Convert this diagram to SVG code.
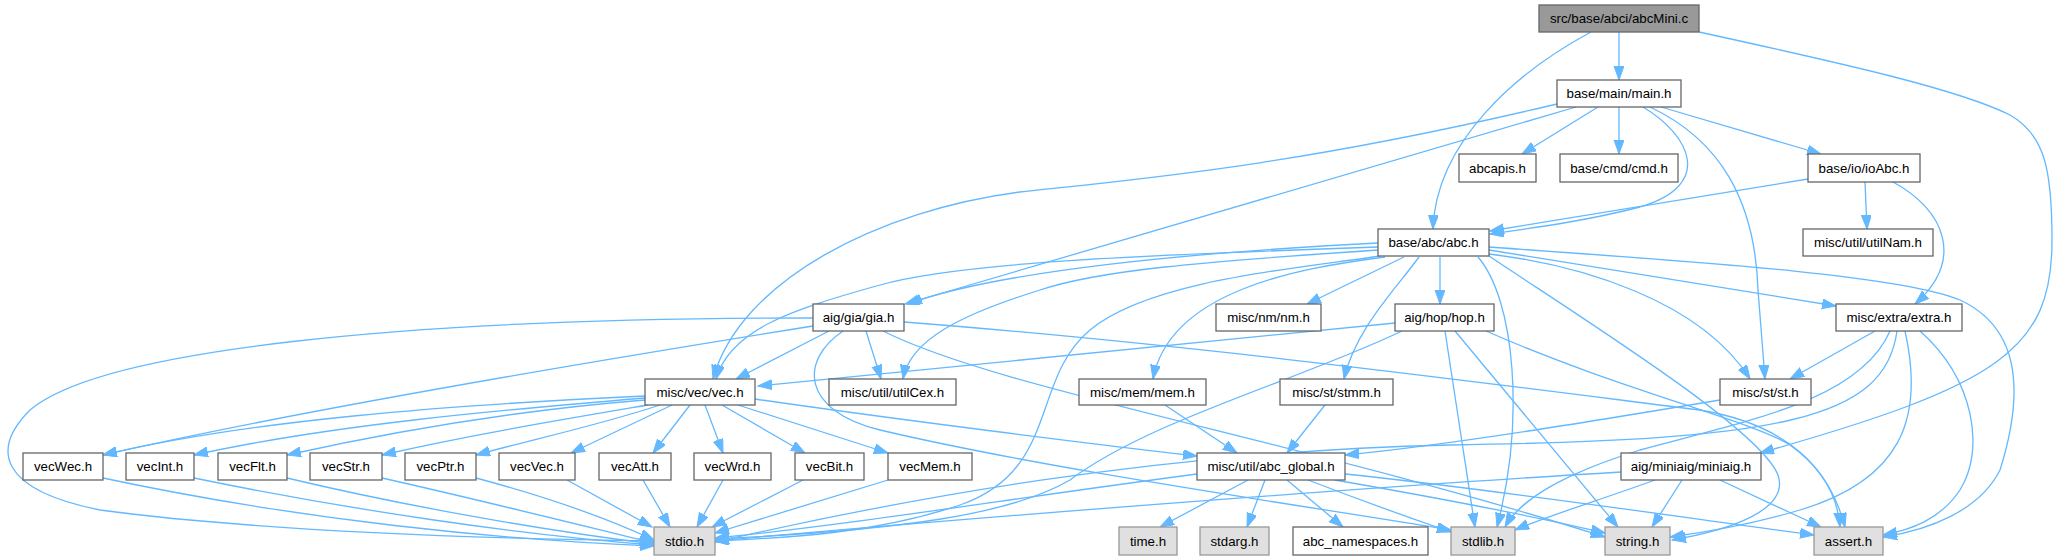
<svg xmlns="http://www.w3.org/2000/svg" width="2057" height="560" viewBox="0 0 2057 560">
<style>
.n rect{fill:#ffffff;stroke:#666666;stroke-width:1.3}
.g rect{fill:#e0e0e0;stroke:#999999;stroke-width:1.3}
.r rect{fill:#999999;stroke:#666666;stroke-width:1.3}
text{font-family:"Liberation Sans",Arial,Helvetica,sans-serif;font-size:13.3px;fill:#000000;text-anchor:middle}
#edges path{fill:none;stroke:#63b8ff;stroke-width:1.3;marker-end:url(#a)}
</style>
<defs>
<marker id="a" markerUnits="userSpaceOnUse" markerWidth="16" markerHeight="12" refX="14" refY="5" orient="auto"><path d="M0,0L14,5L0,10z" fill="#63b8ff" stroke="#63b8ff" stroke-width="1"/></marker>
</defs>
<rect width="2057" height="560" fill="#ffffff"/>
<g id="edges">
<path d="M1619,32 L1619,80"/>
<path d="M1591,32 C1520,70 1436,140 1433,229"/>
<path d="M1699,32 C1850,65 1960,90 2010,115 C2045,135 2052,170 2052,240 C2052,350 2000,385 1760,453"/>
<path d="M1598,107 L1522,154"/>
<path d="M1619,107 L1619,154"/>
<path d="M1661,107 L1821,154"/>
<path d="M1643,107 C1690,135 1715,185 1640,207 C1590,220 1540,227 1490,234"/>
<path d="M1650,107 C1720,140 1755,200 1758,290 L1765,379"/>
<path d="M1576,107 L905,304"/>
<path d="M1557,104 C1300,165 1150,178 1020,192 C880,210 740,280 713,379"/>
<path d="M1808,179 L1490,231"/>
<path d="M1865,182 L1867,229"/>
<path d="M1893,182 C1945,210 1965,260 1915,304"/>
<path d="M1378,243 C1200,252 1000,270 908,304"/>
<path d="M1378,247 C1150,255 960,262 880,285 C790,310 730,330 716,379"/>
<path d="M1378,250 C1200,262 1100,270 1040,290 C960,315 910,340 903,379"/>
<path d="M1380,256 C1300,268 1150,280 1090,330 C1030,380 1060,470 960,505 C870,535 780,538 715,541"/>
<path d="M1404,257 L1307,304"/>
<path d="M1385,257 C1300,268 1170,290 1153,379"/>
<path d="M1440,257 L1440,304"/>
<path d="M1419,257 C1395,290 1355,330 1344,379"/>
<path d="M1478,257 C1515,300 1525,420 1497,527"/>
<path d="M1489,256 C1600,330 1760,430 1778,475 C1790,510 1730,530 1672,540"/>
<path d="M1489,254 C1580,265 1700,300 1750,379"/>
<path d="M1489,250 L1836,306"/>
<path d="M1489,247 C1700,262 1900,275 1960,300 C2025,330 2022,400 2000,470 C1980,510 1930,530 1883,537"/>
<path d="M813,318 C400,318 100,350 30,410 C-10,450 0,490 100,510 C250,530 450,538 654,541"/>
<path d="M813,326 C600,360 300,410 103,455"/>
<path d="M829,331 L736,379"/>
<path d="M866,331 L881,379"/>
<path d="M843,331 C800,360 800,410 880,430 C1050,470 1300,505 1451,530"/>
<path d="M883,331 C1000,390 1300,440 1605,537"/>
<path d="M904,322 C1200,345 1500,385 1700,410 C1790,425 1830,470 1845,527"/>
<path d="M645,396 C450,405 250,420 103,455"/>
<path d="M645,398 C500,410 330,425 194,455"/>
<path d="M645,400 C520,410 400,430 287,455"/>
<path d="M648,405 C560,420 470,435 382,455"/>
<path d="M660,405 C600,425 530,440 476,455"/>
<path d="M672,405 L571,453"/>
<path d="M690,405 L653,453"/>
<path d="M705,405 L723,453"/>
<path d="M722,405 L805,453"/>
<path d="M738,405 L888,453"/>
<path d="M755,399 C900,420 1100,445 1197,456"/>
<path d="M103,478 C300,520 500,540 654,546"/>
<path d="M194,478 C350,510 520,535 654,545"/>
<path d="M287,478 C400,505 540,530 654,544"/>
<path d="M382,478 C480,500 580,525 654,543"/>
<path d="M476,478 C540,495 600,515 654,540"/>
<path d="M567,480 L652,527"/>
<path d="M643,480 L670,527"/>
<path d="M723,480 L697,527"/>
<path d="M803,480 L712,527"/>
<path d="M888,480 L715,533"/>
<path d="M1197,474 C1000,500 850,525 715,538"/>
<path d="M1248,480 L1160,527"/>
<path d="M1265,480 L1247,527"/>
<path d="M1287,480 L1343,527"/>
<path d="M1308,480 C1360,500 1410,518 1451,532"/>
<path d="M1335,480 C1450,500 1550,520 1605,533"/>
<path d="M1345,474 C1500,490 1700,520 1814,535"/>
<path d="M1165,405 L1237,453"/>
<path d="M1325,405 L1287,453"/>
<path d="M1720,400 C1600,420 1450,445 1345,455"/>
<path d="M1395,323 L758,386"/>
<path d="M1402,331 C1300,380 1150,420 1070,480 C1010,515 900,530 715,539"/>
<path d="M1445,331 L1475,527"/>
<path d="M1455,331 L1618,527"/>
<path d="M1486,331 C1620,390 1750,420 1790,445 C1825,470 1838,500 1840,527"/>
<path d="M1875,331 L1790,379"/>
<path d="M1890,331 C1860,400 1750,420 1640,450 C1560,475 1520,500 1505,527"/>
<path d="M1897,331 C1885,420 1780,440 1450,445 C1150,452 900,500 715,542"/>
<path d="M1905,331 C1925,420 1900,480 1800,510 C1750,525 1700,533 1670,537"/>
<path d="M1920,331 C1975,380 1985,450 1960,490 C1940,520 1910,530 1883,535"/>
<path d="M1621,472 C1400,485 1000,515 715,541"/>
<path d="M1655,480 C1600,500 1550,515 1515,530"/>
<path d="M1682,480 L1652,527"/>
<path d="M1720,480 L1821,527"/>
</g>
<g id="n1" class="r"><rect x="1539" y="5" width="160" height="27"/><text x="1619" y="23">src/base/abci/abcMini.c</text></g>
<g id="n2" class="n"><rect x="1557" y="80" width="124" height="27"/><text x="1619" y="98">base/main/main.h</text></g>
<g id="n3" class="n"><rect x="1459" y="154" width="77" height="28"/><text x="1497.5" y="172.5">abcapis.h</text></g>
<g id="n4" class="n"><rect x="1560" y="154" width="118" height="28"/><text x="1619" y="172.5">base/cmd/cmd.h</text></g>
<g id="n5" class="n"><rect x="1808" y="154" width="112" height="28"/><text x="1864" y="172.5">base/io/ioAbc.h</text></g>
<g id="n6" class="n"><rect x="1378" y="229" width="111" height="27"/><text x="1433.5" y="247">base/abc/abc.h</text></g>
<g id="n7" class="n"><rect x="1803" y="229" width="130" height="27"/><text x="1868" y="247">misc/util/utilNam.h</text></g>
<g id="n8" class="n"><rect x="813" y="304" width="91" height="27"/><text x="858.5" y="322">aig/gia/gia.h</text></g>
<g id="n9" class="n"><rect x="1216" y="304" width="105" height="27"/><text x="1268.5" y="322">misc/nm/nm.h</text></g>
<g id="n10" class="n"><rect x="1395" y="304" width="99" height="27"/><text x="1444.5" y="322">aig/hop/hop.h</text></g>
<g id="n11" class="n"><rect x="1836" y="304" width="126" height="27"/><text x="1899" y="322">misc/extra/extra.h</text></g>
<g id="n12" class="n"><rect x="645" y="379" width="110" height="26"/><text x="700" y="396.5">misc/vec/vec.h</text></g>
<g id="n13" class="n"><rect x="829" y="379" width="127" height="26"/><text x="892.5" y="396.5">misc/util/utilCex.h</text></g>
<g id="n14" class="n"><rect x="1079" y="379" width="127" height="26"/><text x="1142.5" y="396.5">misc/mem/mem.h</text></g>
<g id="n15" class="n"><rect x="1280" y="379" width="113" height="26"/><text x="1336.5" y="396.5">misc/st/stmm.h</text></g>
<g id="n16" class="n"><rect x="1720" y="379" width="91" height="26"/><text x="1765.5" y="396.5">misc/st/st.h</text></g>
<g id="n17" class="n"><rect x="23" y="453" width="80" height="27"/><text x="63" y="471">vecWec.h</text></g>
<g id="n18" class="n"><rect x="126" y="453" width="68" height="27"/><text x="160" y="471">vecInt.h</text></g>
<g id="n19" class="n"><rect x="218" y="453" width="69" height="27"/><text x="252.5" y="471">vecFlt.h</text></g>
<g id="n20" class="n"><rect x="310" y="453" width="72" height="27"/><text x="346" y="471">vecStr.h</text></g>
<g id="n21" class="n"><rect x="405" y="453" width="71" height="27"/><text x="440.5" y="471">vecPtr.h</text></g>
<g id="n22" class="n"><rect x="499" y="453" width="76" height="27"/><text x="537" y="471">vecVec.h</text></g>
<g id="n23" class="n"><rect x="599" y="453" width="72" height="27"/><text x="635" y="471">vecAtt.h</text></g>
<g id="n24" class="n"><rect x="694" y="453" width="77" height="27"/><text x="732.5" y="471">vecWrd.h</text></g>
<g id="n25" class="n"><rect x="795" y="453" width="69" height="27"/><text x="829.5" y="471">vecBit.h</text></g>
<g id="n26" class="n"><rect x="888" y="453" width="84" height="27"/><text x="930" y="471">vecMem.h</text></g>
<g id="n27" class="n"><rect x="1197" y="453" width="148" height="27"/><text x="1271" y="471">misc/util/abc_global.h</text></g>
<g id="n28" class="n"><rect x="1621" y="453" width="140" height="27"/><text x="1691" y="471">aig/miniaig/miniaig.h</text></g>
<g id="n29" class="g"><rect x="654" y="527" width="61" height="28"/><text x="684.5" y="545.5">stdio.h</text></g>
<g id="n30" class="g"><rect x="1119" y="527" width="58" height="28"/><text x="1148" y="545.5">time.h</text></g>
<g id="n31" class="g"><rect x="1200" y="527" width="69" height="28"/><text x="1234.5" y="545.5">stdarg.h</text></g>
<g id="n32" class="n"><rect x="1293" y="527" width="135" height="28"/><text x="1360.5" y="545.5">abc_namespaces.h</text></g>
<g id="n33" class="g"><rect x="1451" y="527" width="64" height="28"/><text x="1483" y="545.5">stdlib.h</text></g>
<g id="n34" class="g"><rect x="1605" y="527" width="65" height="28"/><text x="1637.5" y="545.5">string.h</text></g>
<g id="n35" class="g"><rect x="1814" y="527" width="69" height="28"/><text x="1848.5" y="545.5">assert.h</text></g>
</svg>
